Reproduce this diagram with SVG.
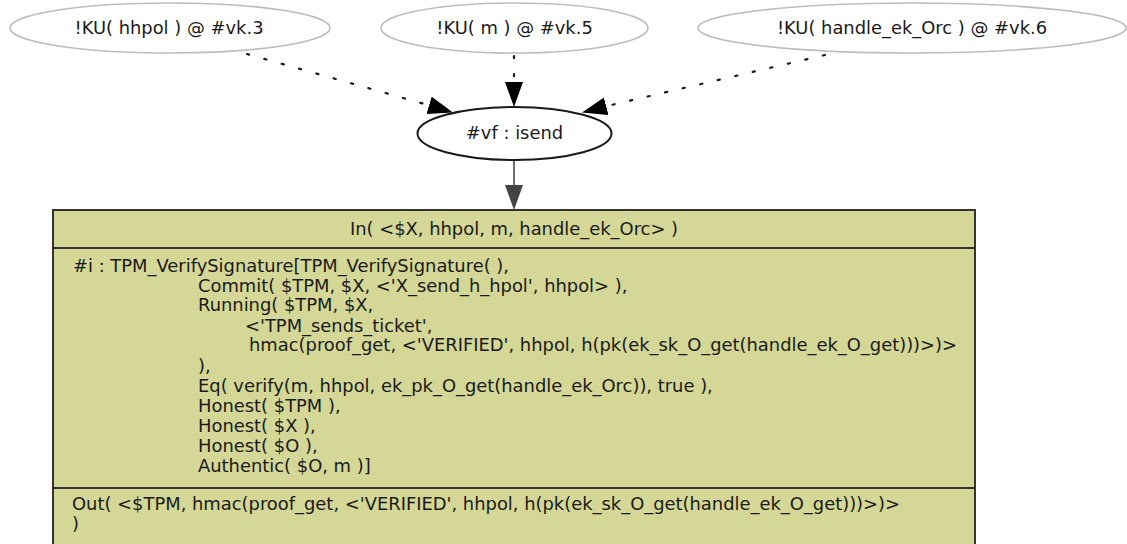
<svg xmlns="http://www.w3.org/2000/svg" width="1127" height="544" viewBox="0 0 1127 544">
  <defs>
    <style>
      text { font-family: "DejaVu Sans", "Liberation Sans", sans-serif; font-size: 17.9px; fill: #1a1a1a; }
      .know { fill: #ffffff; stroke: #bdbdbd; stroke-width: 1.6; }
      .rule-node { fill: #ffffff; stroke: #1a1a1a; stroke-width: 2; }
      .dotted { fill: none; stroke: #1a1a1a; stroke-width: 2.2; stroke-dasharray: 2.2 15.8; stroke-linecap: round; }
      .solid { fill: none; stroke: #6e6e6e; stroke-width: 2; }
      .box { fill: #d4d796; stroke: #333333; stroke-width: 2; }
      .sep { stroke: #333333; stroke-width: 2; }
      .mid { text-anchor: middle; }
    </style>
    <marker id="head-black" markerWidth="25" markerHeight="18" viewBox="0 0 25 18" refX="25" refY="9" orient="auto" markerUnits="userSpaceOnUse">
      <path d="M0,0 L25,9 L0,18 Z" fill="#000000"/>
    </marker>
    <marker id="head-gray" markerWidth="25" markerHeight="18" viewBox="0 0 25 18" refX="25" refY="9" orient="auto" markerUnits="userSpaceOnUse">
      <path d="M0,0 L25,9 L0,18 Z" fill="#444444"/>
    </marker>
  </defs>

  <!-- edges -->
  <g id="edges">
    <path class="dotted" d="M247,54 L428,105"/>
    <path d="M428,105 L453,112.5" stroke="none" marker-end="url(#head-black)"/>
    <path class="dotted" d="M514,56 L514,82"/>
    <path d="M514,82 L514,107" stroke="none" marker-end="url(#head-black)"/>
    <path class="dotted" d="M825,55 L607,106"/>
    <path d="M607,106 L582,112.5" stroke="none" marker-end="url(#head-black)"/>
    <path class="solid" d="M514,160 L514,200"/>
    <path d="M514,186 L514,210" stroke="none" marker-end="url(#head-gray)"/>
  </g>

  <!-- knowledge facts -->
  <g id="ku-hhpol">
    <ellipse class="know" cx="170" cy="28" rx="160" ry="25"/>
    <text class="mid" x="169" y="34">!KU( hhpol ) @ #vk.3</text>
  </g>
  <g id="ku-m">
    <ellipse class="know" cx="514.5" cy="28" rx="133.5" ry="25"/>
    <text class="mid" x="514.5" y="34">!KU( m ) @ #vk.5</text>
  </g>
  <g id="ku-handle">
    <ellipse class="know" cx="912" cy="28" rx="214" ry="25"/>
    <text class="mid" x="912" y="34">!KU( handle_ek_Orc ) @ #vk.6</text>
  </g>

  <!-- send action -->
  <g id="isend">
    <ellipse class="rule-node" cx="514.5" cy="133.5" rx="97" ry="26.5"/>
    <text class="mid" x="514.5" y="139">#vf : isend</text>
  </g>

  <!-- rule instance -->
  <g id="verify-signature">
    <rect class="box" x="53" y="210" width="922" height="345"/>
    <line class="sep" x1="53" y1="248" x2="975" y2="248"/>
    <line class="sep" x1="53" y1="488" x2="975" y2="488"/>
    <text class="mid" x="514" y="235">In( &lt;$X, hhpol, m, handle_ek_Orc&gt; )</text>
    <text x="73" y="272">#i : TPM_VerifySignature[TPM_VerifySignature( ),</text>
    <text x="198" y="292">Commit( $TPM, $X, &lt;'X_send_h_hpol', hhpol&gt; ),</text>
    <text x="198" y="311">Running( $TPM, $X,</text>
    <text x="245" y="332">&lt;'TPM_sends_ticket',</text>
    <text x="249" y="351">hmac(proof_get, &lt;'VERIFIED', hhpol, h(pk(ek_sk_O_get(handle_ek_O_get)))&gt;)&gt;</text>
    <text x="198" y="372">),</text>
    <text x="198" y="392">Eq( verify(m, hhpol, ek_pk_O_get(handle_ek_Orc)), true ),</text>
    <text x="198" y="412">Honest( $TPM ),</text>
    <text x="198" y="432">Honest( $X ),</text>
    <text x="198" y="452">Honest( $O ),</text>
    <text x="198" y="472">Authentic( $O, m )]</text>
    <text x="72" y="510">Out( &lt;$TPM, hmac(proof_get, &lt;'VERIFIED', hhpol, h(pk(ek_sk_O_get(handle_ek_O_get)))&gt;)&gt;</text>
    <text x="72" y="530">)</text>
  </g>
</svg>
